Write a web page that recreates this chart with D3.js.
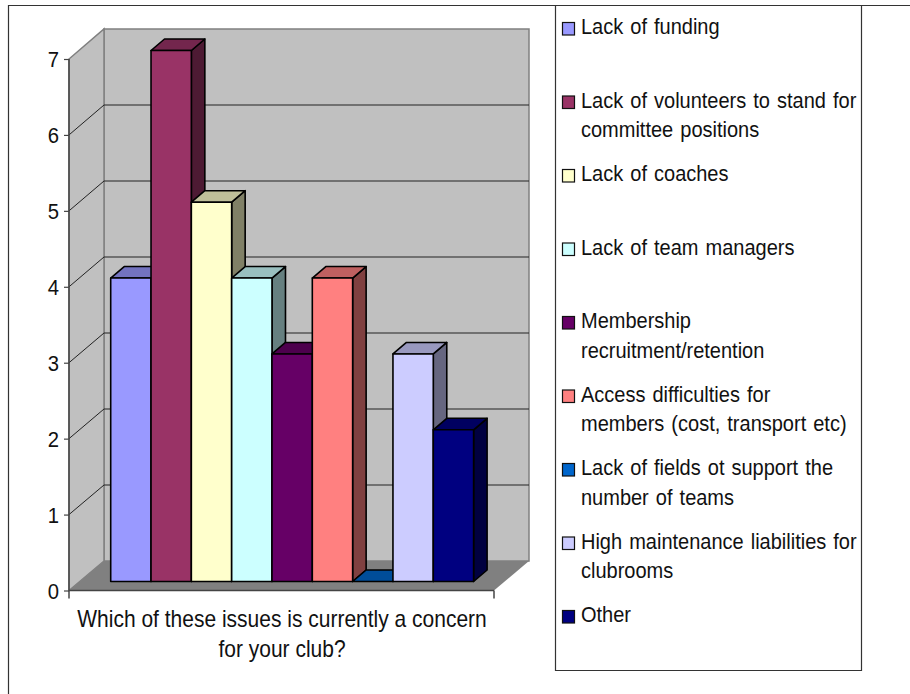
<!DOCTYPE html>
<html lang="en">
<head>
  <meta charset="UTF-8" />
  <title>Club concerns</title>
  <script src="https://cdn.jsdelivr.net/npm/d3@7"></script>
  <style>
    html, body { margin: 0; padding: 0; background: #fff; }
    svg { display: block; }
    text { font-family: "Liberation Sans", Arial, sans-serif; fill: #111; }
  </style>
</head>
<body>
<script>
  // values
  const issues = [
    ['Lack of funding'],
    ['Lack of volunteers to stand for', 'committee positions'],
    ['Lack of coaches'],
    ['Lack of team managers'],
    ['Membership', 'recruitment/retention'],
    ['Access difficulties for', 'members (cost, transport etc)'],
    ['Lack of fields ot support the', 'number of teams'],
    ['High maintenance liabilities for', 'clubrooms'],
    ['Other']
  ];
  const counts = [4, 7, 5, 4, 3, 4, 0, 3, 2];
  const colors = ['#9999ff', '#993366', '#ffffcc', '#ccffff', '#660066', '#ff8080', '#0066cc', '#ccccff', '#000080'];
  const yTicks = [0, 1, 2, 3, 4, 5, 6, 7];
  const axisTitle = ['Which of these issues is currently a concern', 'for your club?'];

  const width = 910;
  const height = 694;

  const svg = d3.select('body')
    .append('svg')
    .attr('width', width)
    .attr('height', height);

  // scales: front of the box (axis), back wall, and the plane the bars stand on
  const yAxisScale = d3.scaleLinear().domain([0, 7]).range([590.5, 59]);
  const yWall = d3.scaleLinear().domain([0, 7]).range([561, 29]);
  const yBar = d3.scaleLinear().domain([0, 7]).range([581.5, 50.5]);
  const x = d3.scaleBand().domain(d3.range(issues.length)).range([110.7, 473.6]);

  const boxLeft = 69, boxRight = 494, wallLeft = 104, wallRight = 529;
  const barDx = 13.5, barDy = 11.5;

  const poly = pts => pts.map(p => p.join(',')).join(' ');

  // outer frame
  svg.append('path')
    .attr('d', `M8.5,${height} V5.5 H${width}`)
    .attr('fill', 'none')
    .attr('stroke', '#333')
    .attr('stroke-width', 1.2);

  // walls and floor
  const walls = svg.append('g');
  walls.append('rect')
    .attr('x', wallLeft).attr('y', yWall(7))
    .attr('width', wallRight - wallLeft).attr('height', yWall(0) - yWall(7))
    .attr('fill', '#c0c0c0').attr('stroke', '#808080').attr('stroke-width', 1.5);
  walls.append('polygon')
    .attr('points', poly([[boxLeft, yAxisScale(0)], [boxLeft, yAxisScale(7)], [wallLeft, yWall(7)], [wallLeft, yWall(0)]]))
    .attr('fill', '#c0c0c0').attr('stroke', '#808080').attr('stroke-width', 1.5);
  walls.append('polygon')
    .attr('points', poly([[boxLeft, yAxisScale(0)], [wallLeft, yWall(0)], [wallRight, yWall(0)], [boxRight, yAxisScale(0)]]))
    .attr('fill', '#808080');

  // gridlines on back and side wall
  const grid = svg.append('g').attr('stroke', '#222').attr('stroke-width', 1).attr('fill', 'none');
  grid.selectAll('path')
    .data(yTicks.filter(d => d > 0 && d < 7))
    .join('path')
    .attr('d', d => `M${boxLeft},${yAxisScale(d)} L${wallLeft},${yWall(d)} H${wallRight}`);

  // axis at the front of the box
  const axis = svg.append('g')
    .attr('transform', `translate(${boxLeft},0)`)
    .call(d3.axisLeft(yAxisScale).tickValues(yTicks).tickFormat(d3.format('d')).tickSize(5));
  axis.selectAll('.domain').remove();
  axis.selectAll('line').attr('stroke', '#444').attr('stroke-width', 1.2);
  // the reference type is tall and narrow, so squeeze it sideways
  axis.selectAll('text')
    .attr('x', 0).attr('dy', 0)
    .attr('transform', 'translate(-10,7.5) scale(0.9,1)')
    .attr('font-size', 22.5)
    .style('font-family', '"Liberation Sans", Arial, sans-serif')
    .attr('fill', '#111');

  const frontAxis = svg.append('g').attr('stroke', '#444').attr('stroke-width', 1.5).attr('fill', 'none');
  frontAxis.append('line').attr('x1', boxLeft).attr('x2', boxLeft).attr('y1', yAxisScale(7)).attr('y2', yAxisScale(0) + 8);
  frontAxis.append('line').attr('x1', boxLeft).attr('x2', boxRight).attr('y1', yAxisScale(0)).attr('y2', yAxisScale(0));
  frontAxis.append('line').attr('x1', boxRight).attr('x2', boxRight).attr('y1', yAxisScale(0)).attr('y2', yAxisScale(0) + 8);

  // bars, left to right so the later ones overlap the earlier ones
  const shade = (c, k) => {
    const r = d3.rgb(c);
    return d3.rgb(r.r * k, r.g * k, r.b * k).formatHex();
  };
  const bars = svg.append('g')
    .selectAll('g')
    .data(counts)
    .join('g')
    .attr('stroke', '#000')
    .attr('stroke-width', 1.6)
    .attr('stroke-linejoin', 'round');

  // side face
  bars.append('polygon')
    .attr('points', (d, i) => {
      const r = x(i) + x.bandwidth();
      return poly([[r, yBar(d)], [r + barDx, yBar(d) - barDy], [r + barDx, yBar(0) - barDy], [r, yBar(0)]]);
    })
    .attr('fill', (d, i) => shade(colors[i], 0.5));

  // top face
  bars.append('polygon')
    .attr('points', (d, i) => {
      const l = x(i), r = l + x.bandwidth();
      return poly([[l, yBar(d)], [l + barDx, yBar(d) - barDy], [r + barDx, yBar(d) - barDy], [r, yBar(d)]]);
    })
    .attr('fill', (d, i) => shade(colors[i], 0.75));

  // front face
  bars.append('rect')
    .attr('x', (d, i) => x(i))
    .attr('y', d => yBar(d))
    .attr('width', x.bandwidth())
    .attr('height', d => yBar(0) - yBar(d))
    .attr('fill', (d, i) => colors[i]);

  // category axis title
  svg.append('g')
    .selectAll('text')
    .data(axisTitle)
    .join('text')
    .attr('transform', (d, i) => `translate(282,${627 + i * 30}) scale(0.913,1)`)
    .attr('text-anchor', 'middle')
    .attr('font-size', 23)
    .text(d => d);

  // legend
  svg.append('clipPath').attr('id', 'legend-clip')
    .append('rect').attr('x', 555).attr('y', 5).attr('width', 306).attr('height', 665);

  svg.append('path')
    .attr('d', 'M555.5,5.5 V670.5 H861.5 V5.5')
    .attr('fill', 'none')
    .attr('stroke', '#333')
    .attr('stroke-width', 1.2);

  const rowY = d3.scaleLinear().domain([0, issues.length - 1]).range([34, 622]);
  const rows = svg.append('g')
    .attr('clip-path', 'url(#legend-clip)')
    .selectAll('g')
    .data(issues)
    .join('g')
    .attr('transform', (d, i) => `translate(0,${rowY(i)})`);

  rows.append('rect')
    .attr('x', 562.5)
    .attr('y', -11.5)
    .attr('width', 12)
    .attr('height', 12.5)
    .attr('fill', (d, i) => colors[i])
    .attr('stroke', '#111')
    .attr('stroke-width', 1.2);

  rows.selectAll('text')
    .data(d => d)
    .join('text')
    .attr('transform', (d, i) => `translate(581,${i * 29.5}) scale(0.893,1)`)
    .attr('font-size', 22.4)
    .attr('word-spacing', 1.7)
    .text(d => d);
</script>
</body>
</html>
